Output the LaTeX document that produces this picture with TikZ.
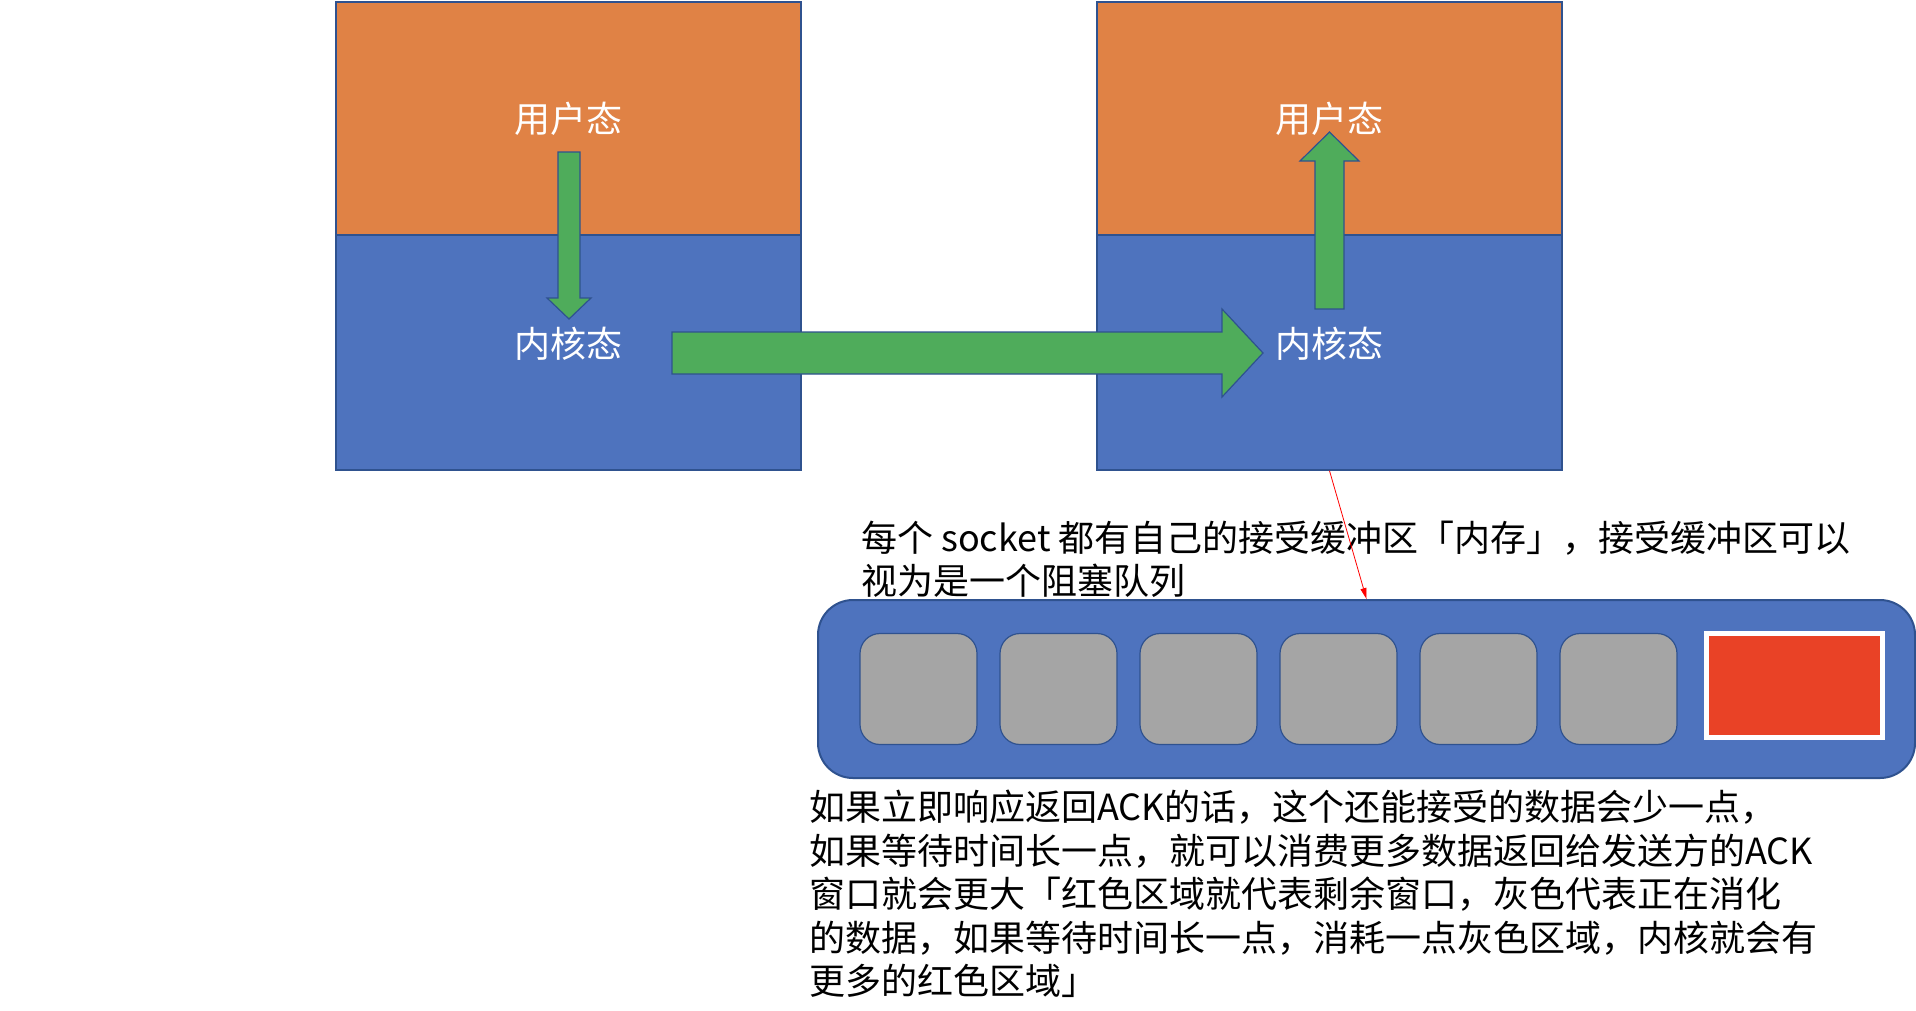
\documentclass[tikz,border=0pt]{standalone}
\usepackage{fontspec}
\setmainfont{Noto Sans CJK SC}
\usetikzlibrary{arrows.meta, positioning, calc}
\definecolor{StateOrange}{RGB}{224, 130, 69}
\definecolor{StateBlue}{RGB}{78, 115, 190}
\definecolor{EdgeBlue}{RGB}{47, 82, 143}
\definecolor{FlowGreen}{RGB}{79, 172, 91}
\definecolor{CellGray}{RGB}{165, 165, 165}
\definecolor{WinRed}{RGB}{233, 66, 38}

\begin{document}
\begin{tikzpicture}[x=1pt, y=-1pt, >=Stealth,
    user/.style={draw=EdgeBlue, line width=1.5pt, fill=StateOrange, minimum width=465pt, minimum height=233pt, inner sep=0pt, text=white, font=\fontsize{36}{43}\selectfont},
    kernel/.style={user, fill=StateBlue, minimum height=235pt, text depth=20pt},
    flow/.style={draw=EdgeBlue, line width=1.2pt, fill=FlowGreen},
    cell/.style={draw=EdgeBlue, line width=1.2pt, fill=CellGray, rounded corners=20pt, minimum width=117pt, minimum height=111pt},
    note/.style={anchor=west, align=left, inner sep=0pt, font=\fontsize{36}{43.5}\selectfont}
  ]
  \useasboundingbox (0,0) rectangle (1916,1010);

  \node[user] (user1) at (568.5, 118.5) {用户态};
  \node[kernel] (kernel1) at (568.5, 352.5) {内核态};
  \node[user] (user2) at (1329.5, 118.5) {用户态};
  \node[kernel] (kernel2) at (1329.5, 352.5) {内核态};

  % block arrows
  \coordinate (dtail) at (569, 152);
  \coordinate (dtip) at (569, 319);
  \draw[flow] ([xshift=-11pt]dtail) -- ([xshift=11pt]dtail) -- ([xshift=11pt, yshift=21pt]dtip)
    -- ([xshift=22pt, yshift=21pt]dtip) -- (dtip) -- ([xshift=-22pt, yshift=21pt]dtip)
    -- ([xshift=-11pt, yshift=21pt]dtip) -- cycle;

  \coordinate (htail) at (672, 353);
  \coordinate (htip) at (1263, 353);
  \draw[flow] ([yshift=21pt]htail) -- ([xshift=-41pt, yshift=21pt]htip) -- ([xshift=-41pt, yshift=44pt]htip)
    -- (htip) -- ([xshift=-41pt, yshift=-44pt]htip) -- ([xshift=-41pt, yshift=-21pt]htip)
    -- ([yshift=-21pt]htail) -- cycle;

  \coordinate (utail) at (1329.5, 309);
  \coordinate (utip) at (1329.5, 132);
  \draw[flow] ([xshift=-14.5pt]utail) -- ([xshift=14.5pt]utail) -- ([xshift=14.5pt, yshift=-29pt]utip)
    -- ([xshift=29.5pt, yshift=-29pt]utip) -- (utip) -- ([xshift=-29.5pt, yshift=-29pt]utip)
    -- ([xshift=-14.5pt, yshift=-29pt]utip) -- cycle;

  % receive buffer
  \node[draw=EdgeBlue, line width=2pt, fill=StateBlue, rounded corners=35pt, minimum width=1097pt, minimum height=178pt] (queue) at (1366.5, 689) {};
  \foreach \i in {0,...,5}
    \node[cell] (c\i) at (918.5+140*\i, 689) {};
  \node[draw=white, line width=5pt, fill=WinRed, minimum width=176pt, minimum height=104pt] (win) at (1794.5, 685.5) {};

  \node[note] (note1) at (861, 559.5) {每个 socket 都有自己的接受缓冲区「内存」，接受缓冲区可以\\视为是一个阻塞队列};
  \draw[->, red, line width=0.8pt, -{Triangle[length=11pt, width=6pt]}] (kernel2.south) -- (queue.north);

  \node[note] (note2) at (809, 894) {如果立即响应返回ACK的话，这个还能接受的数据会少一点，\\如果等待时间长一点，就可以消费更多数据返回给发送方的ACK\\窗口就会更大「红色区域就代表剩余窗口，灰色代表正在消化\\的数据，如果等待时间长一点，消耗一点灰色区域，内核就会有\\更多的红色区域」};
\end{tikzpicture}
\end{document}
